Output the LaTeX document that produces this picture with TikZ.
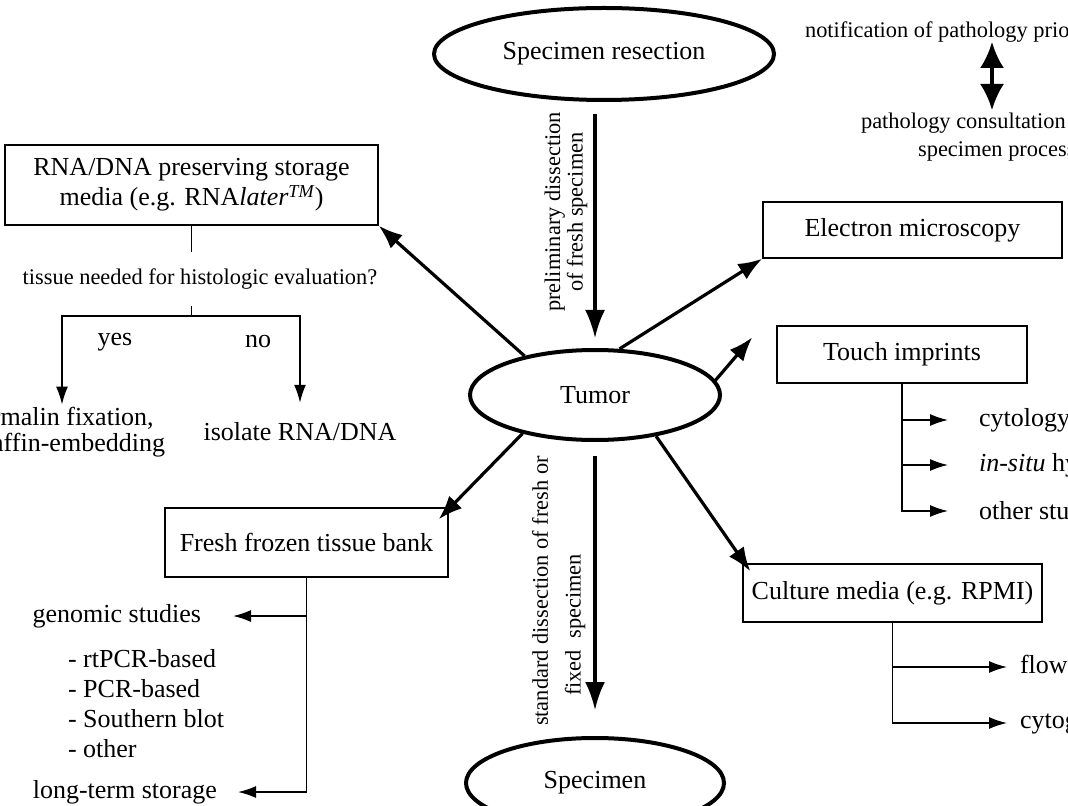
\documentclass[tikz,border=0pt]{standalone}
\usepackage{fontspec}
\setmainfont{Liberation Serif}
\usetikzlibrary{shapes.geometric,arrows.meta,positioning}

\tikzset{
  oval/.style={ellipse,draw,line width=2pt,inner sep=0pt},
  box/.style={draw,line width=0.7pt,inner sep=3pt,align=center},
  bigarrow/.style={line width=1.6pt,-{Latex[length=12pt,width=9pt]}},
  downarrow/.style={line width=1.6pt,-{Latex[length=14pt,width=10pt]}},
  branch/.style={line width=0.8pt,-{Latex[length=9pt,width=6pt]}},
  plain/.style={line width=0.8pt},
  small/.style={font=\fontsize{11.2}{10}\selectfont}
}

\begin{document}
\begin{tikzpicture}[x=0.5pt,y=-0.5pt,font=\fontsize{13}{15}\selectfont]
\useasboundingbox (0,0) rectangle (1068,806);
\clip (0,0) rectangle (1068,806);

\node[oval,minimum width=170pt,minimum height=46pt] (resect) at (604,54) {Specimen resection};
\node[oval,minimum width=125pt,minimum height=45pt] (tumor) at (595,395) {Tumor};
\node[oval,minimum width=129pt,minimum height=45pt] (specimen) at (595,783) {Specimen};

\draw[downarrow,shorten <=6pt,shorten >=5pt] (resect.south -| tumor) -- (tumor.north);
\node[small,rotate=90,align=center] (prelim) at (566,212) {preliminary dissection\\of fresh specimen};
\draw[downarrow,shorten <=7pt,shorten >=13pt] (tumor.south) -- (specimen.north);
\node[small,rotate=90] (stdA) at (540,591) {standard dissection of fresh or};
\node[small,rotate=90] (stdB) at (575,625) {fixed\ \ specimen};

\node[small,anchor=west] (notif) at (798,32) {notification of pathology prior};
\node[small,anchor=west] (consult) at (854,123) {pathology consultation};
\node[small,anchor=west] (process) at (911,152) {specimen processing};
\coordinate (nA) at (992,42);
\coordinate (nB) at (992,110);
\draw[line width=1.6pt,{Latex[length=13pt,width=12pt]}-{Latex[length=13pt,width=12pt]}] (nA) -- (nB);

\node[box,minimum width=186.5pt,minimum height=40pt] (rna) at (191.5,185)
  {RNA/DNA preserving storage\\media (e.g. RNA\textit{later\textsuperscript{TM}})};
\node[small,inner ysep=8pt] (quest) at (200,279) {tissue needed for histologic evaluation?};
\draw[plain] (rna.south) -- (rna.south |- quest.north);
\draw[plain] (rna.south |- quest.south) -- ++(0,10) coordinate (fork);
\node[align=center,inner sep=1pt,font=\fontsize{13}{13}\selectfont] (formfix) at (62,432) {formalin fixation,\\paraffin-embedding};
\node (isolate) at (300,432) {isolate RNA/DNA};
\node (yes) at (115,342) {yes};
\node (no) at (258,342) {no};
\draw[branch] (fork) -| (formfix.north);
\draw[branch] (fork) -| ([yshift=6.5pt]isolate.north);

\node[box,minimum width=149.5pt,minimum height=28pt] (elec) at (912.5,230) {Electron microscopy};
\node[box,minimum width=125pt,minimum height=28.5pt] (touch) at (902,354.5) {Touch imprints};
\node[box,minimum width=141.5pt,minimum height=34.5pt] (fresh) at (306.5,542.5) {Fresh frozen tissue bank};
\node[box,minimum width=149.5pt,minimum height=29pt,inner xsep=1pt] (culture) at (892.5,593) {Culture media (e.g. RPMI)};

\draw[bigarrow] (tumor.151) -- (rna.south east);
\draw[bigarrow] (tumor.62) -- (elec.south west);
\draw[bigarrow] (tumor.7) -- ([shift={(-12pt,-6pt)}]touch.north west);
\draw[bigarrow] (tumor.208) -- ([shift={(-5pt,-6pt)}]fresh.north east);
\draw[bigarrow] (tumor.-34) -- ([shift={(4pt,-4pt)}]culture.north west);

\node[anchor=west] (cyt) at (972,420) {cytology};
\node[anchor=west] (insitu) at (972,465) {\textit{in-situ} hybridization};
\node[anchor=west] (other) at (972,511) {other studies};
\draw[branch] (touch.south) |- ([xshift=-12pt]other.west);
\foreach \n in {cyt,insitu}
  \draw[branch] (touch.south |- \n.west) -- ([xshift=-12pt]\n.west);

\node[anchor=east] (genomic) at (208,616) {genomic studies};
\node[anchor=north west,align=left] (methods) at (61,642) {- rtPCR-based\\- PCR-based\\- Southern blot\\- other};
\node[anchor=east] (storage) at (224,792) {long-term storage};
\draw[branch] (fresh.south) |- ([xshift=7pt]storage.east);
\draw[branch] (fresh.south |- genomic.east) -- ([xshift=12.5pt]genomic.east);

\node[anchor=west] (flow) at (1013,667) {flow cytometry};
\node[anchor=west] (cytog) at (1013,723) {cytogenetics};
\draw[branch] (culture.south) |- ([xshift=-3pt]cytog.west);
\draw[branch] (culture.south |- flow.west) -- ([xshift=-3pt]flow.west);
\end{tikzpicture}
\end{document}
